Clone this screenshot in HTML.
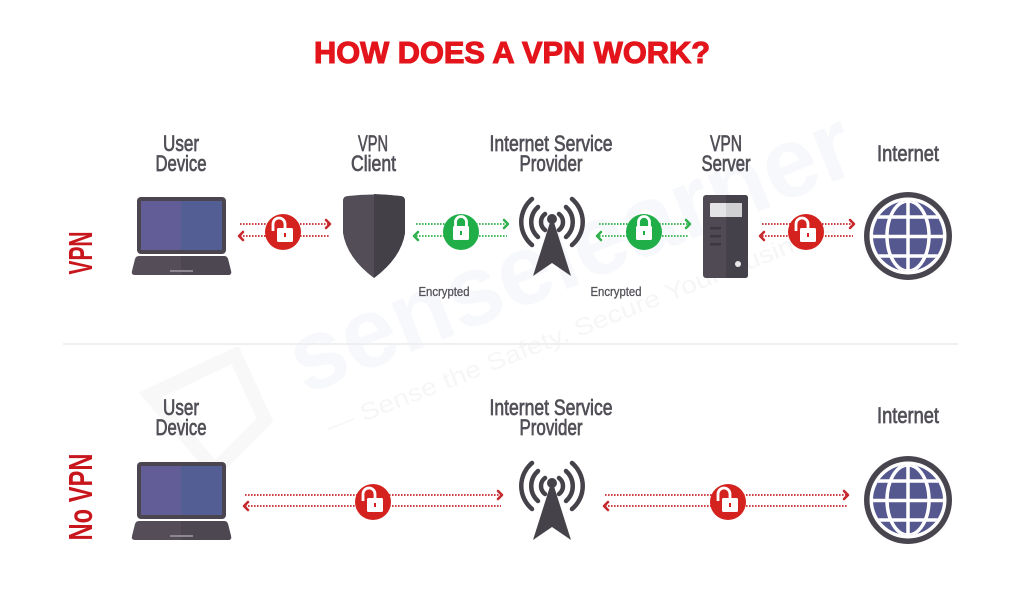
<!DOCTYPE html>
<html><head><meta charset="utf-8"><style>
html,body{margin:0;padding:0;background:#fff;}
svg{display:block;}
</style></head><body>
<svg width="1024" height="611" viewBox="0 0 1024 611" xmlns="http://www.w3.org/2000/svg">
<defs>
<clipPath id="g1"><circle cx="908" cy="236" r="35"/></clipPath>
<clipPath id="g2"><circle cx="908" cy="500" r="35"/></clipPath>
</defs>
<rect width="1024" height="611" fill="#fff"/>

<!-- watermark -->
<g opacity="0.4">
<text x="0" y="0" transform="translate(305,395) rotate(-22)" font-family="Liberation Sans, sans-serif" font-weight="bold" font-size="100" fill="#eceef4" textLength="600" lengthAdjust="spacingAndGlyphs">senselearner</text>
<text x="0" y="0" transform="translate(330,435) rotate(-21.5)" font-family="Liberation Sans, sans-serif" font-size="24" fill="#e8e8ea" textLength="545" lengthAdjust="spacingAndGlyphs">— Sense the Safety, Secure Your Business</text>
<path d="M150,395 L235,355 L265,420 L215,470 Z" fill="none" stroke="#f1eef0" stroke-width="14"/>
</g>

<!-- title -->
<text x="512" y="63" text-anchor="middle" font-family="Liberation Sans, sans-serif" font-weight="bold" font-size="31" fill="#e3141b" stroke="#e3141b" stroke-width="1.1" textLength="396" lengthAdjust="spacingAndGlyphs">HOW DOES A VPN WORK?</text>

<!-- divider -->
<line x1="63" y1="344" x2="958" y2="344" stroke="#efefef" stroke-width="2"/>

<!-- side labels -->
<text x="0" y="0" transform="translate(92,253) rotate(-90)" text-anchor="middle" font-family="Liberation Sans, sans-serif" font-weight="bold" font-size="33" fill="#c8161d" textLength="43" lengthAdjust="spacingAndGlyphs">VPN</text>
<text x="0" y="0" transform="translate(92,497) rotate(-90)" text-anchor="middle" font-family="Liberation Sans, sans-serif" font-weight="bold" font-size="33" fill="#c8161d" textLength="87" lengthAdjust="spacingAndGlyphs">No VPN</text>

<!-- labels -->
<g font-family="Liberation Sans, sans-serif" font-size="22" fill="#524f57" stroke="#524f57" stroke-width="0.7" text-anchor="middle">
<text x="181" y="151" textLength="36" lengthAdjust="spacingAndGlyphs">User</text>
<text x="181" y="171" textLength="51" lengthAdjust="spacingAndGlyphs">Device</text>
<text x="373" y="151" textLength="30" lengthAdjust="spacingAndGlyphs">VPN</text>
<text x="373.5" y="171" textLength="45" lengthAdjust="spacingAndGlyphs">Client</text>
<text x="551" y="151" textLength="123" lengthAdjust="spacingAndGlyphs">Internet Service</text>
<text x="551" y="171" textLength="63" lengthAdjust="spacingAndGlyphs">Provider</text>
<text x="726" y="151" textLength="32" lengthAdjust="spacingAndGlyphs">VPN</text>
<text x="726" y="171" textLength="49" lengthAdjust="spacingAndGlyphs">Server</text>
<text x="908" y="161" textLength="62" lengthAdjust="spacingAndGlyphs">Internet</text>
<text x="181" y="415" textLength="36" lengthAdjust="spacingAndGlyphs">User</text>
<text x="181" y="435" textLength="51" lengthAdjust="spacingAndGlyphs">Device</text>
<text x="551" y="415" textLength="123" lengthAdjust="spacingAndGlyphs">Internet Service</text>
<text x="551" y="435" textLength="63" lengthAdjust="spacingAndGlyphs">Provider</text>
<text x="908" y="423" textLength="62" lengthAdjust="spacingAndGlyphs">Internet</text>
</g>
<g font-family="Liberation Sans, sans-serif" font-size="13" fill="#55525a" stroke="#55525a" stroke-width="0.3" text-anchor="middle">
<text x="444" y="296" textLength="51" lengthAdjust="spacingAndGlyphs">Encrypted</text>
<text x="616" y="296" textLength="51" lengthAdjust="spacingAndGlyphs">Encrypted</text>
</g>

<!-- laptops -->
<g>
<rect x="137" y="197" width="89" height="57" rx="4" fill="#4b4550"/>
<rect x="141" y="201" width="40" height="49" fill="#625d96"/>
<rect x="181" y="201" width="41" height="49" fill="#535e95"/>
<path d="M139,256 L224,256 Q227,256 228,259 L231,271 Q232,275 228,275 L135,275 Q131,275 132,271 L135,259 Q136,256 139,256 Z" fill="#554e59"/>
<path d="M181,256 L224,256 Q227,256 228,259 L231,271 Q232,275 228,275 L181,275 Z" fill="#4d4751"/>
<rect x="170" y="270" width="23" height="2" fill="#8c8792"/>
</g>
<g transform="translate(0,265)">
<rect x="137" y="197" width="89" height="57" rx="4" fill="#4b4550"/>
<rect x="141" y="201" width="40" height="49" fill="#625d96"/>
<rect x="181" y="201" width="41" height="49" fill="#535e95"/>
<path d="M139,256 L224,256 Q227,256 228,259 L231,271 Q232,275 228,275 L135,275 Q131,275 132,271 L135,259 Q136,256 139,256 Z" fill="#554e59"/>
<path d="M181,256 L224,256 Q227,256 228,259 L231,271 Q232,275 228,275 L181,275 Z" fill="#4d4751"/>
<rect x="170" y="270" width="23" height="2" fill="#8c8792"/>
</g>

<!-- shield -->
<path d="M348,196 Q374,193 400,196 Q405,196 405,201 L405,233 Q401,258 374,278 Q347,258 343,233 L343,201 Q343,196 348,196 Z" fill="#524d56"/>
<path d="M374,194 Q387,194.5 400,196 Q405,196 405,201 L405,233 Q401,258 374,278 Z" fill="#444048"/>

<!-- towers -->
<g stroke="#46424a" stroke-width="4.5" fill="none" stroke-linecap="round">
<path d="M545,214 A10,10 0 0 0 545,230"/>
<path d="M559,214 A10,10 0 0 1 559,230"/>
<path d="M538,207 A20,20 0 0 0 538,237"/>
<path d="M566,207 A20,20 0 0 1 566,237"/>
<path d="M532,199 A30,30 0 0 0 532,245"/>
<path d="M572,199 A30,30 0 0 1 572,245"/>
</g>
<circle cx="552" cy="219" r="5" fill="#46424a"/>
<path d="M552,216 L571,276 L552,263 L533,276 Z" fill="#46424a"/>
<g transform="translate(0,264)">
<g stroke="#46424a" stroke-width="4.5" fill="none" stroke-linecap="round">
<path d="M545,214 A10,10 0 0 0 545,230"/>
<path d="M559,214 A10,10 0 0 1 559,230"/>
<path d="M538,207 A20,20 0 0 0 538,237"/>
<path d="M566,207 A20,20 0 0 1 566,237"/>
<path d="M532,199 A30,30 0 0 0 532,245"/>
<path d="M572,199 A30,30 0 0 1 572,245"/>
</g>
<circle cx="552" cy="219" r="5" fill="#46424a"/>
<path d="M552,216 L571,276 L552,263 L533,276 Z" fill="#46424a"/>
</g>

<!-- server -->
<rect x="703" y="195" width="45" height="83" rx="3" fill="#4f4a54"/>
<path d="M726,195 L745,195 Q748,195 748,198 L748,275 Q748,278 745,278 L726,278 Z" fill="#45414a"/>
<rect x="710" y="203" width="32" height="14" rx="1" fill="#e4e4e6"/>
<rect x="726" y="203" width="16" height="14" fill="#d0d0d3"/>
<rect x="710" y="227" width="11" height="2.5" fill="#3c3840"/>
<rect x="710" y="235" width="11" height="2.5" fill="#3c3840"/>
<rect x="710" y="243" width="11" height="2.5" fill="#3c3840"/>
<circle cx="738" cy="264" r="3" fill="#e8e8ea"/>

<!-- globes -->
<g>
<circle cx="908" cy="236" r="44" fill="#49454f"/>
<circle cx="908" cy="236" r="38.5" fill="#fff"/>
<circle cx="908" cy="236" r="35" fill="#55578f"/>
<g clip-path="url(#g1)" stroke="#fff" stroke-width="3.5" fill="none">
<line x1="908" y1="196" x2="908" y2="276"/>
<line x1="868" y1="217" x2="948" y2="217"/>
<line x1="868" y1="236.5" x2="948" y2="236.5"/>
<line x1="868" y1="256" x2="948" y2="256"/>
<ellipse cx="908" cy="236" rx="21" ry="35"/>
</g>
</g>
<g>
<circle cx="908" cy="500" r="44" fill="#49454f"/>
<circle cx="908" cy="500" r="38.5" fill="#fff"/>
<circle cx="908" cy="500" r="35" fill="#55578f"/>
<g clip-path="url(#g2)" stroke="#fff" stroke-width="3.5" fill="none">
<line x1="908" y1="460" x2="908" y2="540"/>
<line x1="868" y1="481" x2="948" y2="481"/>
<line x1="868" y1="500.5" x2="948" y2="500.5"/>
<line x1="868" y1="520" x2="948" y2="520"/>
<ellipse cx="908" cy="500" rx="21" ry="35"/>
</g>
</g>

<!-- connectors -->
<g fill="none" stroke-width="1.7" stroke-dasharray="1.6 1.4">
<g stroke="#c62a2f">
<line x1="240" y1="224" x2="329" y2="224"/><line x1="240" y1="236" x2="329" y2="236"/>
<line x1="762" y1="224" x2="853" y2="224"/><line x1="762" y1="236" x2="853" y2="236"/>
<line x1="245" y1="495" x2="501" y2="495"/><line x1="245" y1="506" x2="501" y2="506"/>
<line x1="605" y1="495" x2="847" y2="495"/><line x1="605" y1="506" x2="847" y2="506"/>
</g>
<g stroke="#33b14e">
<line x1="416" y1="224" x2="507" y2="224"/><line x1="416" y1="236" x2="507" y2="236"/>
<line x1="599" y1="224" x2="689" y2="224"/><line x1="599" y1="236" x2="689" y2="236"/>
</g>
</g>
<g fill="none" stroke-width="2.6" stroke-linecap="round" stroke-linejoin="round">
<g stroke="#c62a2f">
<path d="M326,220 L330,224 L326,228"/><path d="M243,232 L239,236 L243,240"/>
<path d="M850,220 L854,224 L850,228"/><path d="M764,232 L760,236 L764,240"/>
<path d="M498,491 L502,495 L498,499"/><path d="M248,502 L244,506 L248,510"/>
<path d="M844,491 L848,495 L844,499"/><path d="M608,502 L604,506 L608,510"/>
</g>
<g stroke="#33b14e">
<path d="M504,220 L508,224 L504,228"/><path d="M418,232 L414,236 L418,240"/>
<path d="M686,220 L690,224 L686,228"/><path d="M601,232 L597,236 L601,240"/>
</g>
</g>

<!-- red open locks -->
<g>
<circle cx="283" cy="232" r="18" fill="#d4231f"/>
<path d="M273,231 L273,224 A6,6 0 0 1 285,224 L285,228" fill="none" stroke="#fff" stroke-width="2.8"/>
<rect x="277" y="228" width="16" height="14" rx="1.5" fill="#fff"/>
<rect x="284" y="233" width="2" height="4" fill="#d4231f"/>
</g>
<g>
<circle cx="806" cy="232" r="18" fill="#d4231f"/>
<path d="M796,231 L796,224 A6,6 0 0 1 808,224 L808,228" fill="none" stroke="#fff" stroke-width="2.8"/>
<rect x="800" y="228" width="16" height="14" rx="1.5" fill="#fff"/>
<rect x="807" y="233" width="2" height="4" fill="#d4231f"/>
</g>
<g>
<circle cx="373" cy="502" r="18" fill="#d4231f"/>
<path d="M363,501 L363,494 A6,6 0 0 1 375,494 L375,498" fill="none" stroke="#fff" stroke-width="2.8"/>
<rect x="367" y="498" width="16" height="14" rx="1.5" fill="#fff"/>
<rect x="374" y="503" width="2" height="4" fill="#d4231f"/>
</g>
<g>
<circle cx="728" cy="502" r="18" fill="#d4231f"/>
<path d="M718,501 L718,494 A6,6 0 0 1 730,494 L730,498" fill="none" stroke="#fff" stroke-width="2.8"/>
<rect x="722" y="498" width="16" height="14" rx="1.5" fill="#fff"/>
<rect x="729" y="503" width="2" height="4" fill="#d4231f"/>
</g>

<!-- green closed locks -->
<g>
<circle cx="461" cy="232" r="18" fill="#20ae49"/>
<path d="M455.5,227 L455.5,222 A5.5,5.5 0 0 1 466.5,222 L466.5,227" fill="none" stroke="#fff" stroke-width="2.8"/>
<rect x="453" y="226" width="16" height="14" rx="1.5" fill="#fff"/>
<rect x="460" y="231" width="2" height="4" fill="#20ae49"/>
</g>
<g>
<circle cx="644" cy="232" r="18" fill="#20ae49"/>
<path d="M638.5,227 L638.5,222 A5.5,5.5 0 0 1 649.5,222 L649.5,227" fill="none" stroke="#fff" stroke-width="2.8"/>
<rect x="636" y="226" width="16" height="14" rx="1.5" fill="#fff"/>
<rect x="643" y="231" width="2" height="4" fill="#20ae49"/>
</g>
</svg>
</body></html>
